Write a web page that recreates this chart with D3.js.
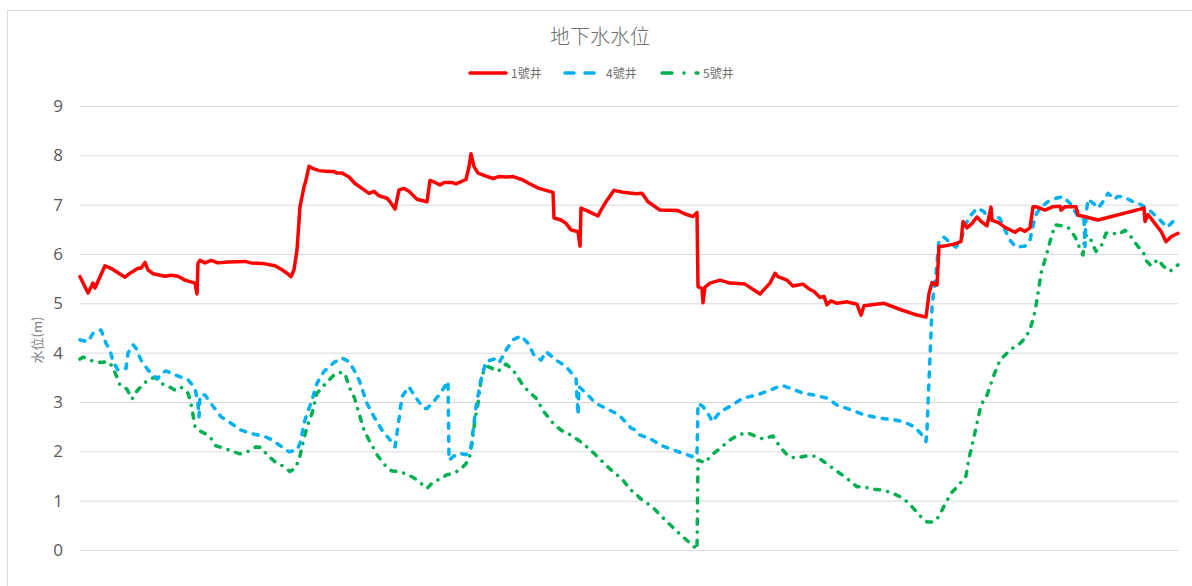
<!DOCTYPE html>
<html>
<head>
<meta charset="utf-8">
<script src="https://cdn.jsdelivr.net/npm/d3@7"></script>
<style>
  html, body { margin: 0; padding: 0; background: #fff; }
  svg { display: block; }
</style>
</head>
<body>
<svg id="chart" width="1192" height="586"></svg>
<script>
// ---------------- DATA ----------------
const chartTitle = "地下水水位";
const yAxisTitle = "水位(m)";
const seriesNames = ["1號井", "4號井", "5號井"];
const yTicks = [0, 1, 2, 3, 4, 5, 6, 7, 8, 9];
const dayDomain = [0, 1100];

// 1號井: [day, level]
const well1Days = [0,8,13,15,20,25,31,45,50,58,61,65,68,73,85,91,98,105,115,117,118,120,125,131,138,148,165,171,185,195,202,207,211,214,217,220,224,226,229,232,239,249,254,257,262,269,275,282,289,294,299,307,310,315,319,324,329,337,347,350,355,360,364,372,376,386,389,391,394,398,406,413,419,426,433,443,449,459,473,474,481,486,491,498,500,501,509,518,521,526,534,543,556,562,568,580,598,605,613,617,618,622,623,625,630,640,650,665,680,690,695,698,707,713,723,730,734,740,744,747,751,757,767,777,781,784,804,821,834,846,849,852,857,859,864,874,881,883,887,892,897,901,907,911,912,918,925,935,940,945,950,953,956,965,973,980,981,985,996,998,1018,1064,1065,1068,1081,1086,1091,1098];
const well1Levels = [5.54,5.21,5.41,5.31,5.54,5.76,5.71,5.53,5.61,5.71,5.71,5.83,5.68,5.60,5.55,5.57,5.55,5.47,5.41,5.19,5.82,5.87,5.82,5.87,5.82,5.84,5.85,5.82,5.80,5.76,5.68,5.61,5.54,5.68,6.08,6.96,7.36,7.50,7.78,7.74,7.69,7.67,7.67,7.64,7.64,7.56,7.43,7.33,7.23,7.27,7.18,7.13,7.06,6.91,7.30,7.33,7.27,7.11,7.06,7.49,7.45,7.40,7.45,7.45,7.42,7.51,7.77,8.03,7.77,7.64,7.58,7.53,7.57,7.56,7.57,7.50,7.43,7.33,7.25,6.73,6.69,6.62,6.49,6.45,6.16,6.93,6.86,6.77,6.89,7.06,7.29,7.25,7.22,7.23,7.06,6.89,6.88,6.81,6.76,6.84,5.34,5.30,5.01,5.33,5.41,5.47,5.41,5.39,5.19,5.41,5.61,5.54,5.47,5.35,5.39,5.28,5.24,5.12,5.14,4.97,5.05,5.00,5.03,4.98,4.76,4.95,5.00,4.87,4.78,4.72,5.20,5.42,5.37,6.15,6.16,6.20,6.25,6.66,6.53,6.62,6.75,6.66,6.57,6.95,6.68,6.64,6.54,6.44,6.51,6.46,6.53,6.96,6.96,6.89,6.96,6.97,6.89,6.96,6.96,6.79,6.69,6.93,6.66,6.80,6.46,6.25,6.35,6.42];

// 4號井: [day, level]
const well4Days = [0,8,13,21,26,30,33,38,46,48,53,56,61,68,75,78,81,86,95,108,115,118,119,120,125,131,141,151,161,171,185,192,202,209,217,220,225,232,237,244,254,262,269,274,279,287,294,302,309,315,318,322,329,335,344,347,352,359,367,368,369,373,379,386,391,396,401,406,414,419,426,433,441,448,454,461,466,476,486,496,498,499,506,516,526,539,551,556,560,570,580,593,603,613,617,618,623,630,632,640,650,663,677,690,702,710,723,734,740,747,757,771,784,801,814,824,834,841,846,847,849,851,852,856,859,864,869,876,881,886,891,897,904,909,912,920,925,930,936,945,950,955,960,968,976,983,990,998,1004,1005,1006,1008,1015,1018,1023,1028,1035,1037,1043,1051,1061,1071,1080,1087,1093,1098];
const well4Levels = [4.26,4.22,4.39,4.46,4.19,4.05,3.82,3.65,3.68,3.99,4.16,4.09,3.85,3.65,3.51,3.48,3.58,3.63,3.55,3.45,3.28,2.97,2.70,3.14,3.14,2.97,2.70,2.57,2.43,2.36,2.30,2.23,2.09,1.99,2.03,2.16,2.64,3.04,3.38,3.62,3.80,3.89,3.82,3.65,3.45,2.97,2.70,2.43,2.26,2.09,2.50,3.11,3.31,3.11,2.87,2.87,2.97,3.14,3.38,3.42,1.82,1.89,1.96,1.93,2.09,2.90,3.45,3.82,3.87,3.79,4.05,4.26,4.34,4.19,3.95,3.85,4.02,3.85,3.72,3.48,2.74,3.31,3.18,2.97,2.87,2.74,2.47,2.43,2.33,2.26,2.13,2.03,1.96,1.89,1.91,2.97,2.91,2.70,2.60,2.80,2.91,3.08,3.14,3.24,3.34,3.28,3.18,3.14,3.11,3.08,2.94,2.84,2.74,2.67,2.64,2.60,2.50,2.36,2.20,2.43,3.45,4.39,4.93,5.61,6.28,6.34,6.25,6.14,6.28,6.62,6.79,6.93,6.86,6.69,6.79,6.72,6.49,6.28,6.14,6.16,6.28,6.76,6.93,7.06,7.13,7.16,7.03,6.76,6.69,6.15,6.79,7.11,7.00,6.93,7.06,7.23,7.11,7.16,7.17,7.08,7.00,6.86,6.69,6.54,6.66,6.77];

// 5號井: [day, level]
const well5Days = [0,3,11,21,28,32,36,40,47,52,55,61,68,75,81,90,95,101,108,111,113,115,118,125,131,136,145,151,160,168,176,181,187,189,195,204,210,215,219,222,227,232,237,245,254,259,265,269,274,279,284,289,297,305,312,319,329,337,347,354,362,366,373,381,389,392,395,398,401,404,408,418,426,433,444,449,456,464,473,481,491,503,514,529,543,550,554,560,572,585,600,610,617,618,625,632,640,650,658,667,675,683,693,700,707,715,727,736,744,756,767,777,784,794,801,812,821,829,839,847,854,859,864,871,879,886,889,893,897,901,907,914,920,925,931,940,945,950,955,958,961,966,971,975,983,988,995,1000,1003,1005,1008,1011,1016,1021,1026,1031,1038,1045,1051,1058,1063,1066,1071,1078,1083,1090,1095,1098];
const well5Levels = [3.87,3.91,3.84,3.80,3.82,3.73,3.55,3.34,3.26,3.06,3.18,3.31,3.45,3.50,3.38,3.30,3.24,3.30,3.18,2.97,2.74,2.50,2.43,2.36,2.26,2.11,2.06,2.01,1.95,2.00,2.09,2.08,1.93,1.89,1.79,1.69,1.59,1.66,1.82,2.09,2.50,2.77,3.18,3.36,3.55,3.60,3.58,3.31,3.11,2.77,2.43,2.23,1.93,1.72,1.60,1.59,1.52,1.42,1.25,1.39,1.45,1.52,1.55,1.64,1.82,2.16,2.64,2.97,3.45,3.65,3.72,3.62,3.77,3.65,3.31,3.21,3.08,2.80,2.57,2.43,2.33,2.16,1.96,1.66,1.42,1.22,1.18,1.05,0.88,0.61,0.32,0.14,0.01,1.82,1.77,1.93,2.06,2.23,2.33,2.38,2.31,2.25,2.31,2.09,1.93,1.86,1.91,1.90,1.79,1.61,1.45,1.28,1.28,1.23,1.22,1.16,1.07,0.95,0.71,0.57,0.57,0.68,0.89,1.15,1.32,1.50,1.86,2.20,2.57,2.94,3.14,3.55,3.85,3.95,4.07,4.19,4.29,4.47,4.83,5.20,5.61,5.95,6.32,6.59,6.57,6.54,6.35,6.11,5.98,6.42,6.28,6.28,6.05,6.15,6.42,6.44,6.39,6.48,6.35,6.15,6.05,5.87,5.76,5.89,5.76,5.65,5.73,5.78];

// ---------------- CHART ----------------
const svg = d3.select("#chart");
const W = 1192, H = 586;
const plot = { left: 80, right: 1180, top: 106, bottom: 550 };

svg.append("rect").attr("width", W).attr("height", H).attr("fill", "#fff");
// outer chart frame
svg.append("rect")
  .attr("x", 7.5).attr("y", 10.5)
  .attr("width", W).attr("height", H)
  .attr("fill", "none").attr("stroke", "#d9d9d9").attr("stroke-width", 1);

const x = d3.scaleLinear().domain(dayDomain).range([plot.left, plot.right]);
const y = d3.scaleLinear().domain([0, 9]).range([plot.bottom, plot.top]);

const fontCJK = "'Noto Sans CJK TC', 'Noto Sans', sans-serif";

// gridlines
const yAxis = d3.axisLeft(y).tickValues(yTicks).tickSize(-(1178 - plot.left)).tickPadding(17).tickFormat(d3.format("d"));
const gAxis = svg.append("g").attr("transform", `translate(${plot.left},0)`).call(yAxis);
gAxis.select(".domain").remove();
gAxis.selectAll(".tick line").attr("stroke", "#d9d9d9").attr("stroke-width", 1);
gAxis.selectAll(".tick text")
  .attr("fill", "#595959")
  .style("font-family", "'Open Sans', 'Noto Sans', sans-serif")
  .style("font-size", "17px");

// title
svg.append("text")
  .attr("x", 600).attr("y", 44)
  .attr("text-anchor", "middle")
  .attr("fill", "#6e6e6e")
  .style("font-family", fontCJK)
  .style("font-weight", "300")
  .style("font-size", "20px")
  .text(chartTitle);

// y axis title
svg.append("text")
  .attr("transform", "translate(42,340) rotate(-90)")
  .attr("text-anchor", "middle")
  .attr("fill", "#808080")
  .style("font-family", fontCJK)
  .style("font-size", "13px")
  .text(yAxisTitle);

const styles = [
  { color: "#ff0000", width: 3.5, dash: null, cap: "round" },
  { color: "#00b0f0", width: 3.5, dash: "5,8", cap: "round" },
  { color: "#00b050", width: 3.5, dash: "5,8,0.1,8", cap: "round" }
];

const series = [
  well1Days.map((d, i) => [d, well1Levels[i]]),
  well4Days.map((d, i) => [d, well4Levels[i]]),
  well5Days.map((d, i) => [d, well5Levels[i]])
];

const line = d3.line().x(d => x(d[0])).y(d => y(d[1]));

// draw 5 first, then 4, then 1 (1號井 on top)
[2, 1, 0].forEach(i => {
  svg.append("path")
    .datum(series[i])
    .attr("fill", "none")
    .attr("stroke", styles[i].color)
    .attr("stroke-width", styles[i].width)
    .attr("stroke-linejoin", "round")
    .attr("stroke-linecap", styles[i].cap)
    .attr("stroke-dasharray", styles[i].dash)
    .attr("d", line);
});

// legend
const legendX = [468, 563, 660];
const legendDash = [null, "9,11", "10,12,0.1,12"];
const lg = svg.append("g");
seriesNames.forEach((name, i) => {
  lg.append("line")
    .attr("x1", legendX[i] + 2).attr("x2", legendX[i] + 38)
    .attr("y1", 73).attr("y2", 73)
    .attr("stroke", styles[i].color)
    .attr("stroke-width", 3.5)
    .attr("stroke-linecap", "round")
    .attr("stroke-dasharray", legendDash[i]);
  lg.append("text")
    .attr("x", legendX[i] + 43).attr("y", 77.5)
    .attr("fill", "#6e6e6e")
    .style("font-family", fontCJK)
    .style("font-size", "12px")
    .text(name);
});
</script>
</body>
</html>
